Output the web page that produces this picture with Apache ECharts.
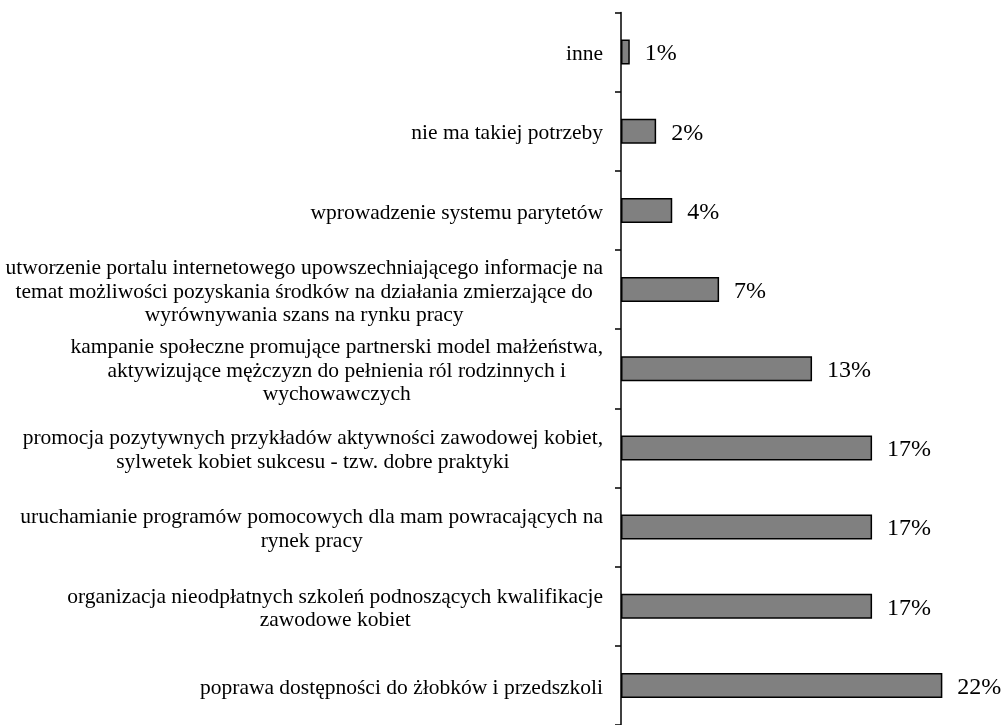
<!DOCTYPE html>
<html>
<head>
<meta charset="utf-8">
<script src="https://cdn.jsdelivr.net/npm/echarts@6/dist/echarts.min.js"></script>
<style>
  html, body { margin: 0; padding: 0; background: #fff; }
  #chart { width: 1004px; height: 725px; }
</style>
</head>
<body>
<div id="chart"></div>
<script>
// Categories listed top to bottom
const categories = [
  "inne",
  "nie ma takiej potrzeby",
  "wprowadzenie systemu parytetów",
  "utworzenie portalu internetowego upowszechniającego informacje na\ntemat możliwości pozyskania środków na działania zmierzające do\nwyrównywania szans na rynku pracy",
  "kampanie społeczne promujące partnerski model małżeństwa,\naktywizujące mężczyzn do pełnienia ról rodzinnych i\nwychowawczych",
  "promocja pozytywnych przykładów aktywności zawodowej kobiet,\nsylwetek kobiet sukcesu - tzw. dobre praktyki",
  "uruchamianie programów pomocowych dla mam powracających na\nrynek pracy",
  "organizacja nieodpłatnych szkoleń podnoszących kwalifikacje\nzawodowe kobiet",
  "poprawa dostępności do żłobków i przedszkoli"
];
// Estimated share (%)
const values = [0.6, 2.4, 3.5, 6.7, 13.05, 17.15, 17.15, 17.15, 21.95];
// Printed value labels
const valueLabels = ["1%", "2%", "4%", "7%", "13%", "17%", "17%", "17%", "22%"];

const serif = '"Liberation Serif", "Times New Roman", serif';
const chart = echarts.init(document.getElementById('chart'));
chart.setOption({
  backgroundColor: '#ffffff',
  animation: false,
  grid: { left: 621, top: 12.5, width: 366, height: 715.5, containLabel: false },
  xAxis: {
    type: 'value', min: 0, max: 25, show: false
  },
  yAxis: {
    type: 'category',
    inverse: true,
    data: categories,
    axisLine: { show: true, lineStyle: { color: '#000', width: 1.5 } },
    axisTick: { show: true, inside: false, length: 6, lineStyle: { color: '#000', width: 1.5 } },
    splitLine: { show: false },
    axisLabel: {
      interval: 0,
      margin: 18,
      align: 'right',
      padding: [5, 0, 0, 0],
      formatter: function (v) {
        return v.split('\n').map(function (l) { return '{c|' + l + '}'; }).join('\n');
      },
      rich: {
        c: { align: 'center', fontFamily: serif, fontSize: 21.5, lineHeight: 23.5, color: '#000' }
      }
    }
  },
  series: [{
    type: 'bar',
    data: values,
    barWidth: 25,
    itemStyle: { color: '#808080', borderColor: '#000', borderWidth: 1.5 },
    label: {
      show: true,
      position: 'right',
      distance: 15,
      offset: [0, 2],
      fontFamily: serif,
      fontSize: 24,
      color: '#000',
      formatter: function (p) { return valueLabels[p.dataIndex]; }
    }
  }]
});
</script>
</body>
</html>
